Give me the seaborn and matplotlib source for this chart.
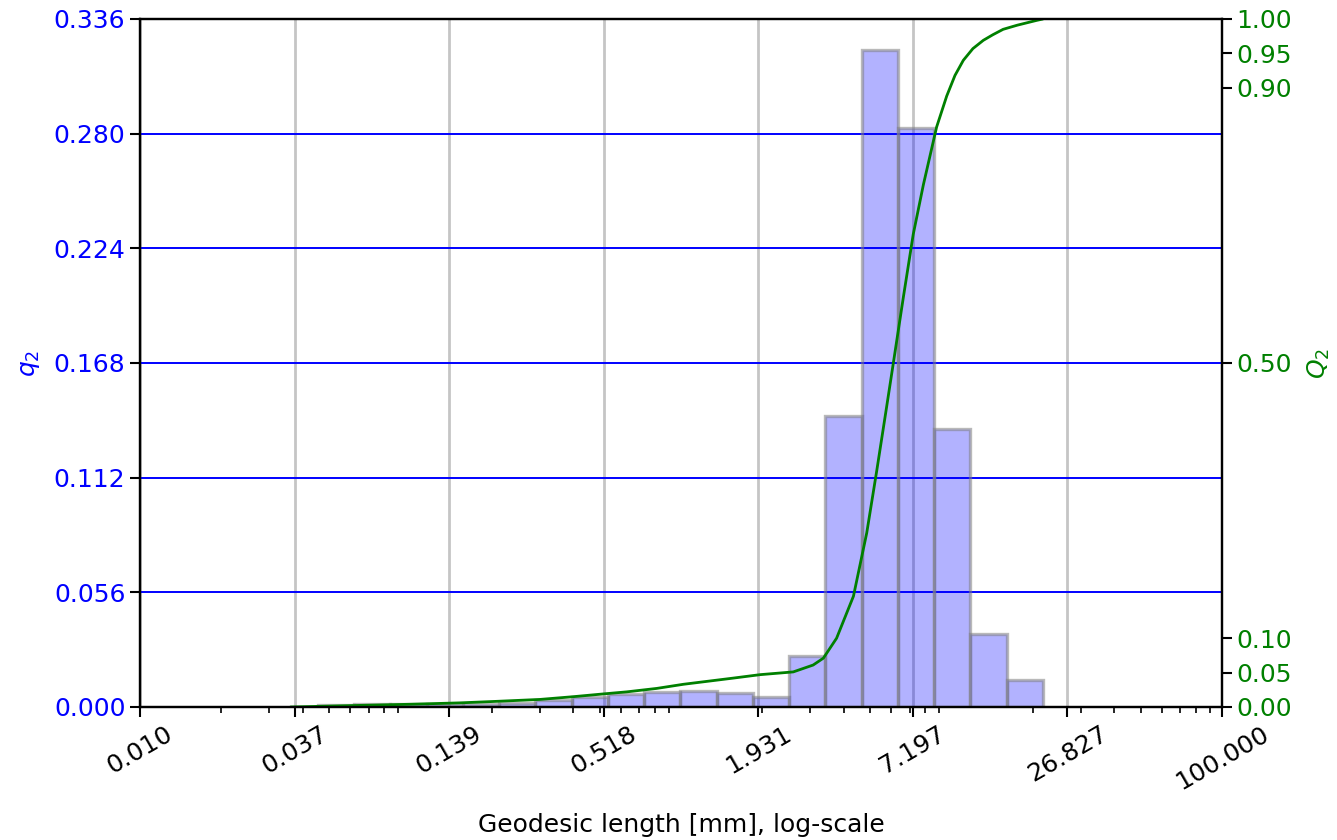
import numpy as np
import pandas as pd
import matplotlib
matplotlib.use("Agg")
import matplotlib.pyplot as plt
import seaborn as sns
from matplotlib.ticker import FixedLocator, FixedFormatter

# ---------------- data ----------------
bin_edges_mm = [0.0455, 0.0619, 0.0843, 0.1148, 0.1563, 0.2128, 0.2897, 0.3945,
                0.5370, 0.7311, 0.9954, 1.355, 1.845, 2.512, 3.420, 4.656,
                6.339, 8.630, 11.75, 16.00, 21.78]
bin_fraction_q2 = [0.0010, 0.0015, 0.0017, 0.0017, 0.0015, 0.0020, 0.0034, 0.0048,
                   0.0065, 0.0072, 0.0080, 0.0068, 0.0050, 0.0250, 0.1419, 0.3210,
                   0.2826, 0.1356, 0.0355, 0.0134]

cdf_length_mm = [0.036, 0.060, 0.100, 0.152, 0.202, 0.301, 0.400, 0.516, 0.630,
                 0.813, 1.02, 1.56, 1.96, 2.60, 3.08, 3.36, 3.76, 4.34, 4.86,
                 5.29, 5.75, 6.09, 6.64, 7.22, 7.87, 8.81, 9.60, 10.3, 11.06,
                 12.0, 13.11, 14.2, 15.52, 17.5, 20.65, 21.78]
cdf_Q2 = [0.000, 0.002, 0.004, 0.006, 0.008, 0.011, 0.015, 0.019, 0.022,
          0.027, 0.033, 0.042, 0.047, 0.051, 0.061, 0.071, 0.100, 0.161, 0.253,
          0.343, 0.435, 0.499, 0.596, 0.687, 0.759, 0.843, 0.888, 0.918, 0.940,
          0.957, 0.969, 0.977, 0.985, 0.991, 0.998, 1.000]

x_tick_values = [0.010, 0.037276, 0.138950, 0.517947, 1.930698, 7.196857, 26.826958, 100.0]
x_tick_labels = ["0.010", "0.037", "0.139", "0.518", "1.931", "7.197", "26.827", "100.000"]
q2_ticks = [0.000, 0.056, 0.112, 0.168, 0.224, 0.280, 0.336]
Q2_ticks = [0.00, 0.05, 0.10, 0.50, 0.90, 0.95, 1.00]

# ---------------- plotting ----------------
sns.set_theme(style="ticks")
plt.rcParams["font.family"] = ["DejaVu Sans"]
plt.rcParams["axes.linewidth"] = 1.6
plt.rcParams["axes.edgecolor"] = "black"
plt.rcParams["text.color"] = "black"
plt.rcParams["axes.labelcolor"] = "black"
plt.rcParams["xtick.color"] = "black"
plt.rcParams["ytick.color"] = "black"

fig = plt.figure(figsize=(13.37, 8.4), dpi=100)
ax = fig.add_axes([140 / 1337, 1 - 707 / 840, (1222 - 140) / 1337, (707 - 19) / 840])

edges = np.array(bin_edges_mm)
centers = np.sqrt(edges[:-1] * edges[1:])
hist_df = pd.DataFrame({"length": centers, "q2": bin_fraction_q2})
log_bins = [float(v) for v in np.log10(edges)]

sns.histplot(data=hist_df, x="length", weights="q2", bins=log_bins, log_scale=True,
             stat="count", ax=ax, facecolor=(0, 0, 1, 0.3),
             edgecolor=(0.5, 0.5, 0.5, 0.55), linewidth=2.4)

ax.set_xlim(0.01, 100)
ax.set_ylim(0, 0.336)
ax.xaxis.set_major_locator(FixedLocator(x_tick_values))
ax.xaxis.set_major_formatter(FixedFormatter(x_tick_labels))
ax.set_yticks(q2_ticks)
ax.set_yticklabels([f"{v:.3f}" for v in q2_ticks], color="blue")
ax.tick_params(axis="both", which="major", labelsize=18, length=7, width=1.5,
               direction="out", color="black")
ax.tick_params(axis="x", which="minor", length=4, width=1.2, direction="out",
               bottom=True, color="black")
ax.tick_params(axis="x", labelcolor="black")
for lab in ax.get_xticklabels():
    lab.set_rotation(30)
    lab.set_ha("center")

ax.grid(False)
ax.xaxis.grid(True, which="major", color="grey", alpha=0.45, linewidth=2.0)
ax.yaxis.grid(True, which="major", color="blue", linewidth=1.4)
ax.set_xlabel("Geodesic length [mm], log-scale", fontsize=18, labelpad=14, color="black")
ax.set_ylabel("$q_2$", color="blue", fontsize=18, labelpad=8)
for sp in ax.spines.values():
    sp.set_color("black")
    sp.set_linewidth(1.6)

ax2 = ax.twinx()
sns.lineplot(x=cdf_length_mm, y=cdf_Q2, ax=ax2, color="green", linewidth=2.0)
ax2.set_ylim(0, 1)
ax2.set_yticks(Q2_ticks)
ax2.set_yticklabels([f"{v:.2f}" for v in Q2_ticks], color="green")
ax2.tick_params(axis="y", labelsize=18, length=7, width=1.5, direction="out", color="black")
ax2.set_ylabel("$Q_2$", color="green", fontsize=18, labelpad=10)
ax2.grid(False)
ax2.set_xlim(0.01, 100)
for sp in ax2.spines.values():
    sp.set_color("black")
    sp.set_linewidth(1.6)

fig.savefig("out.png", dpi=100)
